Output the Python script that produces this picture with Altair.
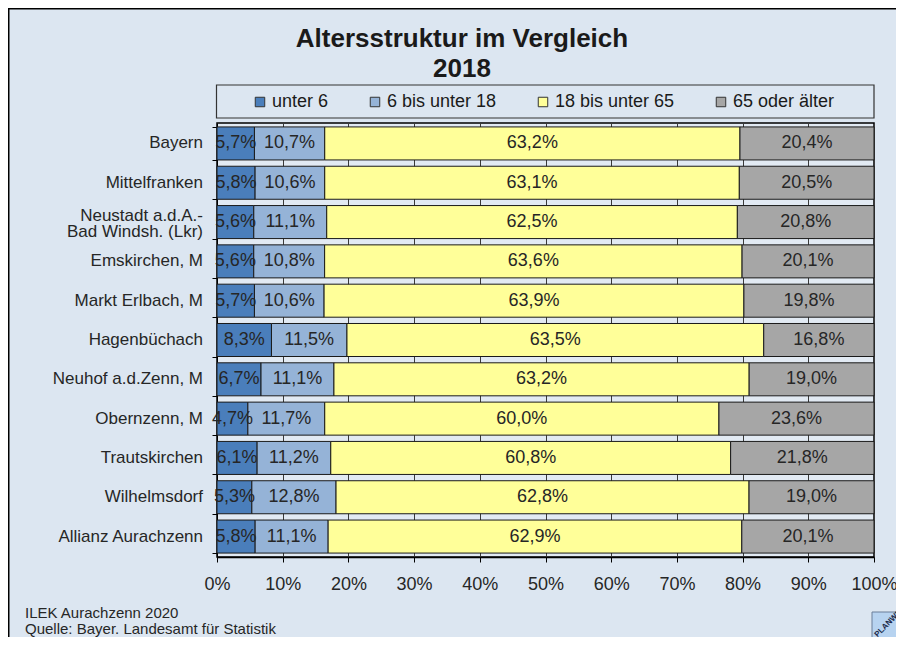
import altair as alt
import pandas as pd

regions = ["Bayern", "Mittelfranken", "Neustadt a.d.A.-|Bad Windsh. (Lkr)", "Emskirchen, M",
           "Markt Erlbach, M", "Hagenbüchach", "Neuhof a.d.Zenn, M", "Obernzenn, M",
           "Trautskirchen", "Wilhelmsdorf", "Allianz Aurachzenn"]
groups = ["unter 6", "6 bis unter 18", "18 bis unter 65", "65 oder älter"]
unter6 = [5.7, 5.8, 5.6, 5.6, 5.7, 8.3, 6.7, 4.7, 6.1, 5.3, 5.8]
bis18 = [10.7, 10.6, 11.1, 10.8, 10.6, 11.5, 11.1, 11.7, 11.2, 12.8, 11.1]
bis65 = [63.2, 63.1, 62.5, 63.6, 63.9, 63.5, 63.2, 60.0, 60.8, 62.8, 62.9]
ab65 = [20.4, 20.5, 20.8, 20.1, 19.8, 16.8, 19.0, 23.6, 21.8, 19.0, 20.1]
colors = ["#4a7ebb", "#95b3d7", "#ffff99", "#a6a6a6"]

rows = []
for i, r in enumerate(regions):
    for k, (g, vals) in enumerate(zip(groups, [unter6, bis18, bis65, ab65])):
        rows.append({"region": r, "group": g, "order": k, "value": vals[i]})
df = pd.DataFrame(rows)
label_df = pd.DataFrame({"region": regions})

FONT = "Liberation Sans"
W, H = 657, 434

base = alt.Chart(df).transform_stack(
    stack="value", groupby=["region"], as_=["x0", "x1"], offset="normalize",
    sort=[alt.SortField("order", order="ascending")]
).transform_calculate(
    mid="(datum.x0 + datum.x1) / 2",
    label="replace(format(datum.value, '.1f'), '.', ',') + '%'"
)

yenc = alt.Y("region:N", sort=regions, title=None,
             scale=alt.Scale(paddingInner=0.16, paddingOuter=0.1),
             axis=alt.Axis(labels=False, tickBand="extent", tickSize=5,
                           tickColor="#000", domainColor="#000"))

bars = base.mark_bar(stroke="#1a1a1a", strokeWidth=1).encode(
    x=alt.X("x0:Q", scale=alt.Scale(domain=[0, 1]), title=None,
            axis=alt.Axis(format=".0%", values=[i / 10 for i in range(11)],
                          labelFont=FONT, labelFontSize=18, labelColor="#262626",
                          labelFlush=False,
                          tickSize=5, tickColor="#000", domainColor="#000",
                          domainWidth=1.5, labelPadding=13, grid=True,
                          gridColor="#3a3a3a", gridWidth=1)),
    x2="x1:Q",
    y=yenc,
    color=alt.Color("group:N", sort=groups,
                    scale=alt.Scale(domain=groups, range=colors),
                    legend=alt.Legend(orient="none", legendX=34, legendY=-30,
                                      direction="horizontal", title=None,
                                      columnPadding=37, symbolType="square",
                                      symbolSize=90, labelFont=FONT, labelFontSize=18,
                                      labelColor="#1a1a1a", labelOffset=3,
                                      symbolStrokeWidth=1, symbolStrokeColor="#333")),
    order=alt.Order("order:Q"),
)

texts = base.mark_text(font=FONT, fontSize=18, color="#262626", baseline="middle").encode(
    x="mid:Q", y=alt.Y("region:N", sort=regions), text="label:N"
)

ylab_base = alt.Chart(label_df).transform_calculate(lines="split(datum.region, '|')")
ylab_single = ylab_base.transform_filter("indexof(datum.region, '|') < 0").mark_text(
    font=FONT, fontSize=17, color="#262626", align="right", baseline="middle"
).encode(x=alt.value(-14), y=alt.Y("region:N", sort=regions), text="region:N")
ylab_multi = ylab_base.transform_filter("indexof(datum.region, '|') >= 0").mark_text(
    font=FONT, fontSize=17, color="#262626", align="right", baseline="middle",
    lineHeight=16, dy=-6
).encode(x=alt.value(-14), y=alt.Y("region:N", sort=regions), text="lines:N")

one = alt.Data(values=[{}])

frame_left = alt.Chart(one).mark_rect(fill="#000", strokeWidth=0).encode(
    x=alt.value(-209), x2=alt.value(-207.5), y=alt.value(-115), y2=alt.value(H + 90))
frame_top = alt.Chart(one).mark_rect(fill="#000", strokeWidth=0).encode(
    x=alt.value(-209), x2=alt.value(W + 22), y=alt.value(-115), y2=alt.value(-113.5))

legend_box = alt.Chart(one).mark_rect(fill=None, stroke="#333", strokeWidth=1.2).encode(
    x=alt.value(-0.5), x2=alt.value(W), y=alt.value(-38), y2=alt.value(-5))

title_lines = ["Altersstruktur im Vergleich", "2018"]
title1 = alt.Chart(one).mark_text(font=FONT, fontSize=26, fontWeight="bold", color="#1a1a1a",
                                  align="center", baseline="alphabetic").encode(
    x=alt.value(245), y=alt.value(-76), text=alt.value(title_lines[0]))
title2 = alt.Chart(one).mark_text(font=FONT, fontSize=26, fontWeight="bold", color="#1a1a1a",
                                  align="center", baseline="alphabetic").encode(
    x=alt.value(245), y=alt.value(-46), text=alt.value(title_lines[1]))

footer_lines = ["ILEK Aurachzenn 2020", "Quelle: Bayer. Landesamt für Statistik"]
foot1 = alt.Chart(one).mark_text(font=FONT, fontSize=15, color="#262626", align="left",
                                 baseline="middle").encode(
    x=alt.value(-192), y=alt.value(490), text=alt.value(footer_lines[0]))
foot2 = alt.Chart(one).mark_text(font=FONT, fontSize=15, color="#262626", align="left",
                                 baseline="middle").encode(
    x=alt.value(-192), y=alt.value(506), text=alt.value(footer_lines[1]))

logo = alt.Chart(one).mark_rect(fill="#b7d3f0", stroke="#6a7f99", strokeWidth=1).encode(
    x=alt.value(655), x2=alt.value(W + 40), y=alt.value(489), y2=alt.value(H + 120))
logo_text = alt.Chart(one).mark_text(font=FONT, fontSize=8, fontWeight="bold", color="#1a2a4a",
                                     angle=315, align="left", baseline="middle").encode(
    x=alt.value(659), y=alt.value(513), text=alt.value("PLANWERK"))

chart = alt.layer(
    bars, texts, ylab_single, ylab_multi, frame_left, frame_top, legend_box,
    title1, title2, foot1, foot2, logo, logo_text
).properties(
    width=W, height=H,
    autosize=alt.AutoSizeParams(type="none"),
    padding={"left": 209, "top": 115, "right": 22, "bottom": 80},
    background="#dce6f1",
).configure_view(
    fill="#e2eaf3", stroke="#000", strokeWidth=1.5
)

chart.save("out.html", embed_options={"renderer": "svg", "actions": False})
